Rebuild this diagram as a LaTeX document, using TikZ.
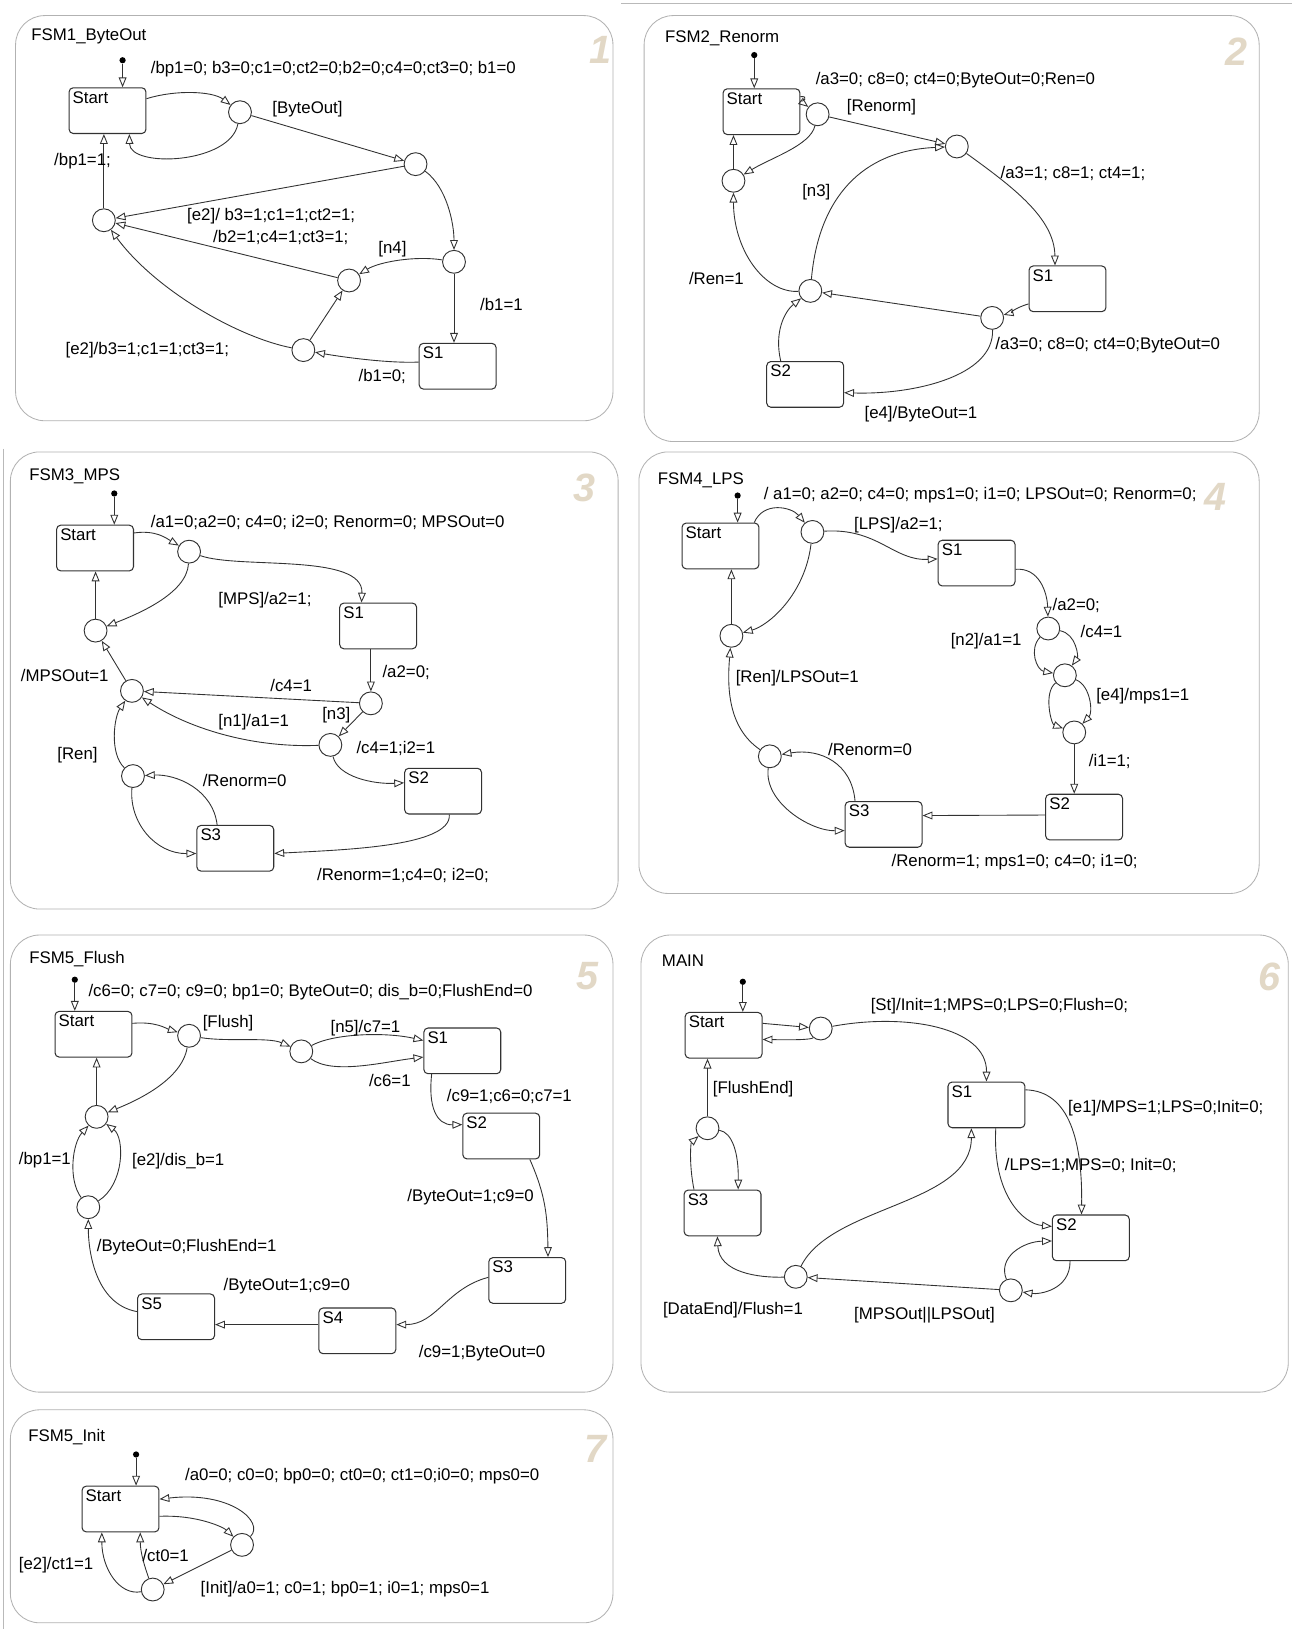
\documentclass[tikz,border=0pt]{standalone}
\usepackage{fontspec}
\setmainfont{Liberation Sans}
\usetikzlibrary{arrows.meta,calc}
\definecolor{numc}{RGB}{226,216,198}
\definecolor{ln}{RGB}{50,50,50}
\newcommand{\stt}[1]{\parbox[t][37pt][t]{67pt}{#1}}
\begin{document}
\begin{tikzpicture}[x=1pt,y=-1pt,
  every node/.style={font=\fontsize{16.2}{18}\selectfont},
  frame/.style={draw=gray!60, line width=0.8pt, rounded corners=28pt},
  edge/.style={draw=gray!55, line width=0.8pt},
  stbox/.style={draw=ln, line width=1pt, rounded corners=4pt, inner sep=3.5pt},
  jn/.style={circle, draw=ln, line width=0.9pt, minimum size=22pt, inner sep=0pt},
  dot/.style={circle, fill=black, minimum size=6pt, inner sep=0pt},
  tr/.style={draw=ln, line width=0.85pt, -{Triangle[open, length=9.5pt, width=7.5pt]}},
  lbl/.style={anchor=west, inner sep=0pt},
  ttl/.style={anchor=west, inner sep=0pt},
  num/.style={font=\fontsize{38}{38}\selectfont\bfseries\itshape, text=numc}
]
\useasboundingbox (0,0) rectangle (1244,1568);
\fill[white] (0,0) rectangle (1244,1568);
\draw[edge] (598,3) -- (1244,3);
\draw[edge] (3,432) -- (3,1568);

% ================= Panel 1 =================
\draw[frame] (15,15) rectangle (590,405);
\node[ttl] (t1) at (30,35) {FSM1\_ByteOut};
\node[num] (n1) at (578,48) {1};
\node[dot] (i1) at (118,58) {};
\node[stbox] (start1) at (103.5,106.5) {\stt{Start}};
\node[stbox] (s11) at (440.5,352.5) {\stt{S1}};
\node[jn] (A1) at (231,108) {};
\node[jn] (B1) at (400,158) {};
\node[jn] (C1) at (100,212) {};
\node[jn] (D1) at (437,252) {};
\node[jn] (E1) at (336,270) {};
\node[jn] (F1) at (292,337) {};
\draw[tr] (i1) -- (i1 |- start1.north);
\draw[tr] ($(start1.north east)+(0,11)$) .. controls (170,86) and (205,88) .. (A1);
\draw[tr] (A1) .. controls (222,158) and (125,162) .. ($(start1.south)+(21,0)$);
\draw[tr] (A1) -- (B1);
\draw[tr] (B1) -- (C1);
\draw[tr] (C1) -- (C1 |- start1.south);
\draw[tr] (B1) .. controls (430,180) and (437,215) .. (D1);
\draw[tr] (D1) -- (D1 |- s11.north);
\draw[tr] (D1) .. controls (400,246) and (365,252) .. (E1);
\draw[tr] (E1) -- (C1);
\draw[tr] ($(s11.west)+(0,-4)$) .. controls (370,350) and (320,342) .. (F1);
\draw[tr] (F1) -- (E1);
\draw[tr] (F1) .. controls (230,325) and (150,280) .. (C1);
\node[lbl] (l1a) at (145,67) {/bp1=0; b3=0;c1=0;ct2=0;b2=0;c4=0;ct3=0; b1=0};
\node[lbl] (l1b) at (262,105) {[ByteOut]};
\node[lbl] (l1c) at (52,155) {/bp1=1;};
\node[lbl] (l1d) at (180,208) {[e2]/ b3=1;c1=1;ct2=1;};
\node[lbl] (l1e) at (205,229) {/b2=1;c4=1;ct3=1;};
\node[lbl] (l1f) at (364,240) {[n4]};
\node[lbl] (l1g) at (462,293) {/b1=1};
\node[lbl] (l1h) at (63,337) {[e2]/b3=1;c1=1;ct3=1;};
\node[lbl] (l1i) at (345,362) {/b1=0;};

% ================= Panel 2 =================
\draw[frame] (620,15) rectangle (1212,425);
\node[ttl] (t2) at (640,37) {FSM2\_Renorm};
\node[num] (n2) at (1190,50) {2};
\node[dot] (i2) at (726,53) {};
\node[stbox] (start2) at (733,107.5) {\stt{Start}};
\node[stbox] (s21) at (1027.5,278) {\stt{S1}};
\node[stbox] (s22) at (775,370) {\stt{S2}};
\node[jn] (A2) at (787,110) {};
\node[jn] (B2) at (921,141) {};
\node[jn] (C2) at (706,174) {};
\node[jn] (D2) at (955,306) {};
\node[jn] (E2) at (780,280) {};
\draw[tr] (i2) -- (i2 |- start2.north);
\draw[tr] ($(start2.north east)+(0,8)$) .. controls (779,92) and (773,99) .. (A2);
\draw[tr] (A2) -- (B2);
\draw[tr] (A2) .. controls (780,140) and (742,152) .. (C2);
\draw[tr] (C2) -- (C2 |- start2.south);
\draw[tr] (B2) .. controls (975,180) and (1015,210) .. ($(s21.north)+(-12,0)$);
\draw[tr] ($(s21.south west)+(0,-8)$) .. controls (978,296) and (970,302) .. (D2);
\draw[tr] (D2) -- (E2);
\draw[tr] (D2) .. controls (957,362) and (880,380) .. ($(s22.east)+(0,8)$);
\draw[tr] ($(s22.north west)+(14,0)$) .. controls (745,320) and (755,300) .. (E2);
\draw[tr] (E2) .. controls (788,190) and (830,145) .. (B2);
\draw[tr] (E2) .. controls (735,282) and (706,240) .. (C2);
\node[lbl] (l2a) at (785,77) {/a3=0; c8=0; ct4=0;ByteOut=0;Ren=0};
\node[lbl] (l2b) at (815,103) {[Renorm]};
\node[lbl] (l2c) at (963,167) {/a3=1; c8=1; ct4=1;};
\node[lbl] (l2d) at (772,185) {[n3]};
\node[lbl] (l2e) at (663,268) {/Ren=1};
\node[lbl] (l2f) at (958,332) {/a3=0; c8=0; ct4=0;ByteOut=0};
\node[lbl] (l2g) at (832,399) {[e4]/ByteOut=1};

% ================= Panel 3 =================
\draw[frame] (10,435) rectangle (595,875);
\node[ttl] (t3) at (28,458) {FSM3\_MPS};
\node[num] (n3) at (563,470) {3};
\node[dot] (i3) at (110,475) {};
\node[stbox] (start3) at (91.5,527.5) {\stt{Start}};
\node[stbox] (s31) at (364,602.5) {\stt{S1}};
\node[stbox] (s32) at (426.5,761.5) {\stt{S2}};
\node[stbox] (s33) at (226.5,816.5) {\stt{S3}};
\node[jn] (A3) at (182,531) {};
\node[jn] (C3) at (92,607) {};
\node[jn] (D3) at (357,677) {};
\node[jn] (E3) at (127,665) {};
\node[jn] (F3) at (318,717) {};
\node[jn] (G3) at (128,747) {};
\draw[tr] (i3) -- (i3 |- start3.north);
\draw[tr] ($(start3.north east)+(0,8)$) .. controls (150,510) and (160,518) .. (A3);
\draw[tr] (A3) .. controls (230,548) and (350,532) .. ($(s31.north)+(-16,0)$);
\draw[tr] (A3) .. controls (180,572) and (130,592) .. (C3);
\draw[tr] (C3) -- (C3 |- start3.south);
\draw[tr] (D3 |- s31.south) -- (D3);
\draw[tr] (D3) -- (E3);
\draw[tr] (D3) -- (F3);
\draw[tr] (F3) .. controls (240,720) and (180,700) .. (E3);
\draw[tr] (F3) .. controls (325,748) and (360,755) .. ($(s32.west)+(0,-8)$);
\draw[tr] (E3) -- (C3);
\draw[tr] ($(s32.south)+(6,0)$) .. controls (435,815) and (330,818) .. ($(s33.east)+(0,5)$);
\draw[tr] ($(s33.north west)+(20,0)$) .. controls (205,760) and (170,745) .. (G3);
\draw[tr] (G3) .. controls (124,792) and (150,822) .. ($(s33.west)+(0,5)$);
\draw[tr] (G3) .. controls (105,725) and (110,690) .. (E3);
\node[lbl] (l3a) at (145,503) {/a1=0;a2=0; c4=0; i2=0; Renorm=0; MPSOut=0};
\node[lbl] (l3b) at (210,578) {[MPS]/a2=1;};
\node[lbl] (l3c) at (368,647) {/a2=0;};
\node[lbl] (l3d) at (20,650) {/MPSOut=1};
\node[lbl] (l3e) at (260,660) {/c4=1};
\node[lbl] (l3f) at (310,688) {[n3]};
\node[lbl] (l3g) at (210,695) {[n1]/a1=1};
\node[lbl] (l3h) at (343,720) {/c4=1;i2=1};
\node[lbl] (l3i) at (55,727) {[Ren]};
\node[lbl] (l3j) at (195,751) {/Renorm=0};
\node[lbl] (l3k) at (305,843) {/Renorm=1;c4=0; i2=0;};

% ================= Panel 4 =================
\draw[frame] (615,435) rectangle (1212,860);
\node[ttl] (t4) at (633,462) {FSM4\_LPS};
\node[num] (n4) at (1170,478) {4};
\node[dot] (i4) at (710,477) {};
\node[stbox] (start4) at (693.5,525.5) {\stt{Start}};
\node[stbox] (s41) at (940,542) {\stt{S1}};
\node[stbox] (s42) at (1043.5,786.5) {\stt{S2}};
\node[stbox] (s43) at (850.5,793.5) {\stt{S3}};
\node[jn] (A4) at (782,512) {};
\node[jn] (C4) at (704,612) {};
\node[jn] (D4) at (1009,605) {};
\node[jn] (E4) at (1025,650) {};
\node[jn] (F4) at (1034,705) {};
\node[jn] (G4) at (741,728) {};
\draw[tr] (i4) -- (i4 |- start4.north);
\draw[tr] ($(start4.north east)+(-5,0)$) .. controls (735,482) and (762,488) .. (A4);
\draw[tr] (A4) .. controls (845,508) and (860,540) .. ($(s41.west)+(0,-4)$);
\draw[tr] (A4) .. controls (775,572) and (740,602) .. (C4);
\draw[tr] (C4) -- (C4 |- start4.south);
\draw[tr] ($(s41.east)+(0,6)$) .. controls (1000,546) and (1008,570) .. (D4);
\draw[tr] (D4) .. controls (990,625) and (998,645) .. (E4);
\draw[tr] (D4) .. controls (1036,610) and (1038,632) .. (E4);
\draw[tr] (E4) .. controls (1004,667) and (1012,697) .. (F4);
\draw[tr] (E4) .. controls (1050,660) and (1052,686) .. (F4);
\draw[tr] (F4) -- (F4 |- s42.north);
\draw[tr] ($(s42.west)+(0,-2)$) -- ($(s43.east)+(0,-8.5)$);
\draw[tr] ($(s43.north west)+(10,0)$) .. controls (820,735) and (790,720) .. (G4);
\draw[tr] (G4) .. controls (735,772) and (780,800) .. ($(s43.west)+(0,6)$);
\draw[tr] (G4) .. controls (700,700) and (700,660) .. (C4);
\node[lbl] (l4a) at (735,477) {/ a1=0; a2=0; c4=0; mps1=0; i1=0; LPSOut=0; Renorm=0;};
\node[lbl] (l4b) at (822,505) {[LPS]/a2=1;};
\node[lbl] (l4c) at (1013,583) {/a2=0;};
\node[lbl] (l4d) at (1040,608) {/c4=1};
\node[lbl] (l4e) at (915,617) {[n2]/a1=1};
\node[lbl] (l4f) at (708,653) {[Ren]/LPSOut=1};
\node[lbl] (l4g) at (1055,670) {[e4]/mps1=1};
\node[lbl] (l4h) at (797,721) {/Renorm=0};
\node[lbl] (l4i) at (1048,733) {/i1=1;};
\node[lbl] (l4j) at (858,830) {/Renorm=1; mps1=0; c4=0; i1=0;};

% ================= Panel 5 =================
\draw[frame] (10,900) rectangle (590,1340);
\node[ttl] (t5) at (28,923) {FSM5\_Flush};
\node[num] (n5) at (565,940) {5};
\node[dot] (i5) at (72,943) {};
\node[stbox] (start5) at (90,995.5) {\stt{Start}};
\node[stbox] (s51) at (445,1011.5) {\stt{S1}};
\node[stbox] (s52) at (482.5,1093.5) {\stt{S2}};
\node[stbox] (s53) at (507.5,1232.5) {\stt{S3}};
\node[stbox] (s54) at (344,1281) {\stt{S4}};
\node[stbox] (s55) at (169.5,1267.5) {\stt{S5}};
\node[jn] (A5) at (182,997) {};
\node[jn] (B5) at (290,1012) {};
\node[jn] (C5) at (93,1075) {};
\node[jn] (D5) at (85,1162) {};
\draw[tr] (i5) -- (i5 |- start5.north);
\draw[tr] ($(start5.north east)+(0,12)$) .. controls (150,983) and (160,990) .. (A5);
\draw[tr] (A5) .. controls (220,1003) and (258,998) .. (B5);
\draw[tr] (B5) .. controls (320,995) and (370,993) .. ($(s51.west)+(0,-10)$);
\draw[tr] (B5) .. controls (320,1035) and (370,1022) .. ($(s51.west)+(0,6)$);
\draw[tr] ($(s51.south west)+(8,0)$) .. controls (412,1065) and (420,1083) .. ($(s52.west)+(0,-11)$);
\draw[tr] ($(s52.south east)+(-10,0)$) .. controls (525,1150) and (527,1170) .. ($(s53.north)+(20,0)$);
\draw[tr] ($(s53.west)+(0,-3)$) .. controls (430,1240) and (420,1275) .. ($(s54.east)+(0,-6)$);
\draw[tr] ($(s54.west)+(0,-6)$) -- ($(s55.east)+(0,7.5)$);
\draw[tr] ($(s55.west)+(0,-5)$) .. controls (90,1255) and (85,1200) .. (D5);
\draw[tr] (D5) .. controls (65,1135) and (70,1100) .. (C5);
\draw[tr] (D5) .. controls (120,1140) and (120,1095) .. (C5);
\draw[tr] (A5) .. controls (175,1040) and (130,1060) .. (C5);
\draw[tr] (C5) -- (C5 |- start5.south);
\node[lbl] (l5a) at (85,955) {/c6=0; c7=0; c9=0; bp1=0; ByteOut=0; dis\_b=0;FlushEnd=0};
\node[lbl] (l5b) at (195,985) {[Flush]};
\node[lbl] (l5c) at (318,990) {[n5]/c7=1};
\node[lbl] (l5d) at (355,1040) {/c6=1};
\node[lbl] (l5e) at (430,1055) {/c9=1;c6=0;c7=1};
\node[lbl] (l5f) at (18,1117) {/bp1=1};
\node[lbl] (l5g) at (127,1118) {[e2]/dis\_b=1};
\node[lbl] (l5h) at (392,1152) {/ByteOut=1;c9=0};
\node[lbl] (l5i) at (93,1200) {/ByteOut=0;FlushEnd=1};
\node[lbl] (l5j) at (215,1238) {/ByteOut=1;c9=0};
\node[lbl] (l5k) at (403,1302) {/c9=1;ByteOut=0};

% ================= Panel 6 =================
\draw[frame] (617,900) rectangle (1240,1340);
\node[ttl] (t6) at (637,925) {MAIN};
\node[num] (n6) at (1222,940) {6};
\node[dot] (i6) at (715,945) {};
\node[stbox] (start6) at (696.5,996.5) {\stt{Start}};
\node[stbox] (s61) at (949.5,1063.5) {\stt{S1}};
\node[stbox] (s62) at (1050,1191.5) {\stt{S2}};
\node[stbox] (s63) at (695.5,1167.5) {\stt{S3}};
\node[jn] (A6) at (790,990) {};
\node[jn] (B6) at (973,1242) {};
\node[jn] (C6) at (766,1229) {};
\node[jn] (D6) at (681,1086) {};
\draw[tr] (i6) -- (i6 |- start6.north);
\draw[tr] ($(start6.north east)+(0,11)$) -- (A6);
\draw[tr] (A6) .. controls (781,1001) and (760,1001) .. ($(start6.east)+(0,4)$);
\draw[tr] (A6) .. controls (870,975) and (950,988) .. (s61.north);
\draw[tr] ($(s61.north east)+(0,8)$) .. controls (1030,1050) and (1042,1100) .. ($(s62.north)+(-9,0)$);
\draw[tr] ($(s61.south)+(9,0)$) .. controls (955,1150) and (985,1178) .. ($(s62.west)+(0,-11)$);
\draw[tr] ($(s62.south)+(-20,0)$) .. controls (1030,1242) and (1000,1246) .. (B6);
\draw[tr] (B6) .. controls (960,1210) and (985,1195) .. ($(s62.west)+(0,3)$);
\draw[tr] (B6) -- (C6);
\draw[tr] (C6) .. controls (800,1160) and (935,1160) .. ($(s61.south)+(-14.5,0)$);
\draw[tr] (C6) .. controls (730,1230) and (692,1225) .. ($(s63.south)+(-5,0)$);
\draw[tr] ($(s63.north west)+(10,0)$) .. controls (663,1120) and (665,1100) .. (D6);
\draw[tr] (D6) .. controls (705,1090) and (711,1110) .. ($(s63.north)+(15,0)$);
\draw[tr] (D6) -- (D6 |- start6.south);
\node[lbl] (l6a) at (838,968) {[St]/Init=1;MPS=0;LPS=0;Flush=0;};
\node[lbl] (l6b) at (686,1048) {[FlushEnd]};
\node[lbl] (l6c) at (1028,1067) {[e1]/MPS=1;LPS=0;Init=0;};
\node[lbl] (l6d) at (967,1122) {/LPS=1;MPS=0; Init=0;};
\node[lbl] (l6e) at (638,1261) {[DataEnd]/Flush=1};
\node[lbl] (l6f) at (822,1266) {[MPSOut||LPSOut]};

% ================= Panel 7 =================
\draw[frame] (10,1357) rectangle (590,1562);
\node[ttl] (t7) at (27,1383) {FSM5\_Init};
\node[num] (n7) at (573,1395) {7};
\node[dot] (i7) at (131,1400) {};
\node[stbox] (start7) at (116,1452.5) {\stt{Start}};
\node[jn] (A7) at (233,1487) {};
\node[jn] (B7) at (147,1530) {};
\draw[tr] (i7) -- (i7 |- start7.north);
\draw[tr] ($(start7.east)+(0,7)$) .. controls (190,1458) and (215,1470) .. (A7);
\draw[tr] (A7) .. controls (255,1465) and (222,1435) .. ($(start7.north east)+(0,13)$);
\draw[tr] (A7) -- (B7);
\draw[tr] (B7) .. controls (140,1510) and (135,1495) .. ($(start7.south)+(19,0)$);
\draw[tr] (B7) .. controls (115,1536) and (98,1510) .. ($(start7.south)+(-18,0)$);
\node[lbl] (l7a) at (178,1421) {/a0=0; c0=0; bp0=0; ct0=0; ct1=0;i0=0; mps0=0};
\node[lbl] (l7b) at (137,1497) {/ct0=1};
\node[lbl] (l7c) at (18,1507) {[e2]/ct1=1};
\node[lbl] (l7d) at (193,1530) {[Init]/a0=1; c0=1; bp0=1; i0=1; mps0=1};
\end{tikzpicture}
\end{document}
